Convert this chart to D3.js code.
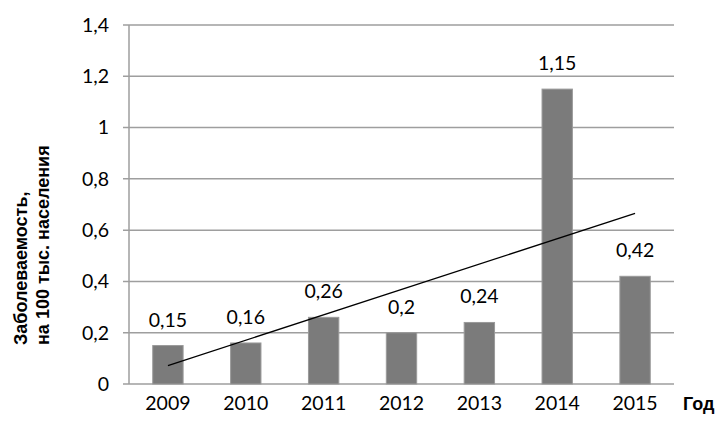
<!DOCTYPE html>
<html><head><meta charset="utf-8">
<script src="https://cdn.jsdelivr.net/npm/d3@7"></script>
<style>body{margin:0;background:#fff}svg{display:block}</style>
</head><body>
<script>
const years = ["2009","2010","2011","2012","2013","2014","2015"];
const values = [0.15,0.16,0.26,0.2,0.24,1.15,0.42];
const valueLabels = ["0,15","0,16","0,26","0,2","0,24","1,15","0,42"];
const yTicks = [0,0.2,0.4,0.6,0.8,1,1.2,1.4];
const yTickLabels = ["0","0,2","0,4","0,6","0,8","1","1,2","1,4"];
const yTitle = ["Заболеваемость,","на 100 тыс. населения"];
const xTitle = "Год";

const W=724,H=426;
const m={left:129,top:25,right:50,bottom:42};
const pw=674-m.left, ph=384-m.top;
const svg=d3.select("body").append("svg").attr("width",W).attr("height",H);
const g=svg.append("g").attr("transform",`translate(${m.left},${m.top})`);
const x=d3.scaleBand().domain(years).range([0,pw]).paddingInner(0.61).paddingOuter(0.305);
const y=d3.scaleLinear().domain([0,1.4]).range([ph,0]);
const font="Lato, 'Open Sans', sans-serif";

// gridlines
g.selectAll(".grid").data(yTicks).enter().append("line")
 .attr("x1",-6).attr("x2",pw).attr("y1",d=>y(d)).attr("y2",d=>y(d))
 .attr("stroke","#9e9e9e").attr("stroke-width",1.5);
// y axis line
g.append("line").attr("x1",0).attr("x2",0).attr("y1",0).attr("y2",ph)
 .attr("stroke","#9e9e9e").attr("stroke-width",1.5);
// y tick labels
g.selectAll(".yl").data(yTicks).enter().append("text")
 .attr("x",-20).attr("y",d=>y(d)).attr("dy","0.35em").attr("text-anchor","end")
 .attr("font-family",font).attr("font-size",19.5).attr("fill","#000")
 .text((d,i)=>yTickLabels[i]);
// bars
g.selectAll(".bar").data(values).enter().append("rect")
 .attr("x",(d,i)=>x(years[i])).attr("width",x.bandwidth())
 .attr("y",d=>y(d)).attr("height",d=>ph-y(d))
 .attr("fill","#7b7b7b").attr("stroke","#9a9a9a").attr("stroke-width",1);
// value labels
g.selectAll(".vl").data(values).enter().append("text")
 .attr("x",(d,i)=>x(years[i])+x.bandwidth()/2).attr("y",d=>y(d)-19)
 .attr("text-anchor","middle").attr("font-family",font).attr("font-size",19.5).attr("fill","#000")
 .text((d,i)=>valueLabels[i]);
// x labels
g.selectAll(".xl").data(years).enter().append("text")
 .attr("x",d=>x(d)+x.bandwidth()/2).attr("y",ph+26)
 .attr("text-anchor","middle").attr("font-family",font).attr("font-size",19.5).attr("fill","#000")
 .text(d=>d);
// trend line (least squares)
const n=values.length, xs=d3.range(n);
const mx=d3.mean(xs), my=d3.mean(values);
const slope=d3.sum(xs,(xi)=> (xi-mx)*(values[xi]-my))/d3.sum(xs,xi=>(xi-mx)**2);
const icpt=my-slope*mx;
const cx=i=>x(years[i])+x.bandwidth()/2;
g.append("line").attr("x1",cx(0)).attr("y1",y(icpt)).attr("x2",cx(n-1)).attr("y2",y(icpt+slope*(n-1)))
 .attr("stroke","#000").attr("stroke-width",1.3);
// axis titles
const yt=svg.append("text").attr("transform","translate(0,345) rotate(-90)")
 .attr("font-family","'Liberation Sans', Arial, sans-serif").attr("font-weight","bold").attr("font-size",18).attr("fill","#000");
yt.selectAll("tspan").data(yTitle).enter().append("tspan")
 .attr("x",0).attr("y",(d,i)=>27+i*22).text(d=>d);
svg.append("text").attr("x",683).attr("y",ph+m.top+26)
 .attr("font-family","'Liberation Sans', Arial, sans-serif").attr("font-weight","bold").attr("font-size",18).attr("fill","#000")
 .text(xTitle);
</script>
</body></html>
